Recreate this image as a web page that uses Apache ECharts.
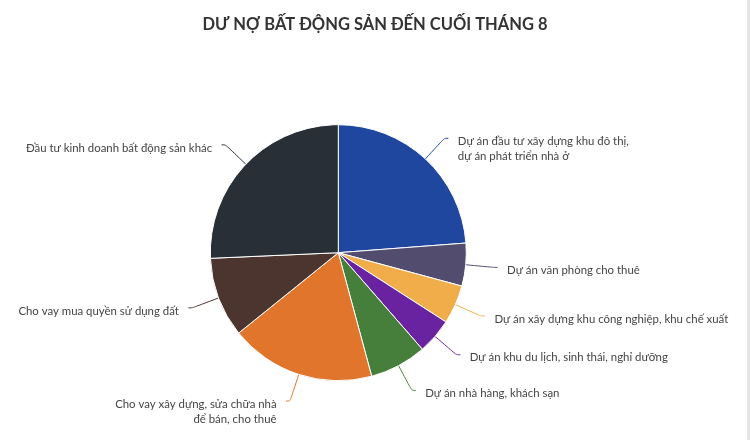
<!DOCTYPE html>
<html>
<head>
<meta charset="utf-8">
<script src="https://cdn.jsdelivr.net/npm/echarts@6/dist/echarts.min.js"></script>
<style>
  html, body { margin: 0; padding: 0; background: #fff; }
  #chart { width: 747px; height: 440px; border-right: 3px solid #e6e6e6; }
</style>
</head>
<body>
<div id="chart"></div>
<script>
// các nhóm dư nợ, theo chiều kim đồng hồ từ 12 giờ
const categories = [
    'Dự án đầu tư xây dựng khu đô thị,\ndự án phát triển nhà ở',
    'Dự án văn phòng cho thuê',
    'Dự án xây dựng khu công nghiệp, khu chế xuất',
    'Dự án khu du lịch, sinh thái, nghỉ dưỡng',
    'Dự án nhà hàng, khách sạn',
    'Cho vay xây dựng, sửa chữa nhà\nđể bán, cho thuê',
    'Cho vay mua quyền sử dụng đất',
    'Đầu tư kinh doanh bất động sản khác'
];
// tỷ trọng (%) ước lượng từ hình
const values = [23.8, 5.4, 4.9, 4.5, 7.2, 18.4, 10.1, 25.7];
const colors = ['#2047a0', '#524d6e', '#f0ad4a', '#6a23a0', '#467e3b', '#e0752b', '#4b352e', '#282f37'];

const chart = echarts.init(document.getElementById('chart'));

/** thêm một dòng trống phía trên để dòng chữ đầu nằm ngang đầu đường dẫn */
const labelText = p => {
    const lines = p.name.split('\n');
    const gap = lines.length > 1 ? 'g2' : 'g1';
    return '{' + gap + '| }\n' + lines.map(l => '{t|' + l + '}').join('\n');
};

const option = {
    color: colors,
    title: {
        text: 'DƯ NỢ BẤT ĐỘNG SẢN ĐẾN CUỐI THÁNG 8',
        left: 370,
        textAlign: 'center',
        top: 11,
        textStyle: {
            fontFamily: 'Lato',
            fontSize: 16.5,
            fontWeight: 'bold',
            color: '#333'
        }
    },
    series: [{
        type: 'pie',
        center: [338.3, 252.7],
        radius: 128,
        startAngle: 90,
        clockwise: true,
        itemStyle: {borderColor: '#fff', borderWidth: 1},
        label: {
            formatter: labelText,
            distanceToLabelLine: 9.5,
            rich: {
                g1: {fontSize: 1, lineHeight: 6},
                g2: {fontSize: 1, lineHeight: 21},
                t: {fontFamily: 'Lato', fontSize: 11.4, color: '#444', lineHeight: 15}
            }
        },
        labelLine: {length: 28, length2: 4, smooth: true},
        data: categories.map((name, i) => ({name: name, value: values[i]}))
    }]
};

chart.setOption(option);
</script>
</body>
</html>
